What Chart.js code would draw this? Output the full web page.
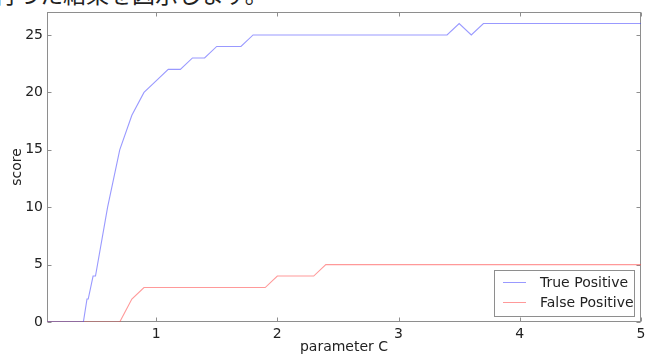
<!DOCTYPE html>
<html><head><meta charset="utf-8">
<script src="https://cdn.jsdelivr.net/npm/chart.js@4.4.0/dist/chart.umd.min.js"></script>
<style>
html,body{margin:0;padding:0;background:#fff;overflow:hidden;}
#wrap{position:relative;width:645px;height:354px;overflow:hidden;}
#jp{position:absolute;left:-6px;top:-18px;font-family:"Noto Sans CJK JP";font-size:23px;line-height:23px;color:#222;white-space:nowrap;}
canvas{position:absolute;left:0;top:0;}
</style></head><body>
<div id="wrap"><div id="jp">行った結果を図示します。</div><canvas id="c" width="645" height="354"></canvas></div>
<script>
// parameter C values (x)
const paramC = [0.1,0.2,0.3,0.4,0.43,0.44,0.46,0.48,0.5,0.6,0.7,
  0.8,0.9,1.0,1.1,1.2,1.3,1.4,1.5,1.6,1.7,
  1.8,1.9,2.0,2.1,2.2,2.3,2.4,2.5,2.6,2.7,2.8,2.9,3.0,3.1,3.2,3.3,3.4,
  3.5,3.6,
  3.7,3.8,3.9,4.0,4.1,4.2,4.3,4.4,4.5,4.6,4.7,4.8,4.9,5.0];
const truePositive = [0,0,0,0,2,2,3,4,4,10,15,
  18,20,21,22,22,23,23,24,24,24,
  25,25,25,25,25,25,25,25,25,25,25,25,25,25,25,25,25,
  26,25,
  26,26,26,26,26,26,26,26,26,26,26,26,26,26];
const falsePositive = [0,0,0,0,0,0,0,0,0,0,0,
  2,3,3,3,3,3,3,3,3,3,
  3,3,4,4,4,4,5,5,5,5,5,5,5,5,5,5,5,
  5,5,
  5,5,5,5,5,5,5,5,5,5,5,5,5,5];
const seriesNames = ['True Positive','False Positive'];
const xTickValues = [1,2,3,4,5];
const yTickValues = [0,5,10,15,20,25];
const xTitle = 'parameter C';
const yTitle = 'score';

const toPts = vals => paramC.map((c,i)=>({x:c,y:vals[i]}));
const FRAME = '#8e8e8e';
const TXT = '#222';
const FONT = 'DejaVu Sans';
const noPad = s => { s.paddingLeft=0; s.paddingRight=0; s.paddingTop=0; s.paddingBottom=0; };

const framePlugin = {
  id:'frame',
  beforeDatasetsDraw(chart){
    const {ctx, chartArea:a, scales:{x,y}} = chart;
    ctx.save();
    ctx.strokeStyle = FRAME; ctx.lineWidth = 1;
    const L=Math.round(a.left)+0.5, R=Math.round(a.right)-0.5, T=Math.round(a.top)+0.5, B=Math.round(a.bottom)-0.5;
    ctx.strokeRect(L,T,R-L,B-T);
    ctx.beginPath();
    x.ticks.forEach(t=>{
      const px=Math.round(x.getPixelForValue(t.value))+0.5;
      ctx.moveTo(px,B); ctx.lineTo(px,B-4);
      ctx.moveTo(px,T); ctx.lineTo(px,T+4);
    });
    y.ticks.forEach(t=>{
      const py=Math.round(y.getPixelForValue(t.value))+0.5;
      ctx.moveTo(L,py); ctx.lineTo(L+4,py);
      ctx.moveTo(R,py); ctx.lineTo(R-4,py);
    });
    ctx.stroke();
    ctx.restore();
  }
};
const legendPlugin = {
  id:'innerLegend',
  afterDraw(chart){
    const {ctx} = chart;
    const bx=494.5, by=270.5, bw=140, bh=46;
    ctx.save();
    ctx.fillStyle='#fff'; ctx.fillRect(bx,by,bw,bh);
    ctx.strokeStyle=FRAME; ctx.lineWidth=1; ctx.strokeRect(bx,by,bw,bh);
    ctx.font = '14px "'+FONT+'"';
    ctx.textBaseline='middle'; ctx.textAlign='left';
    chart.data.datasets.forEach((ds,i)=>{
      const cy = 282 + i*20;
      ctx.strokeStyle = ds.borderColor; ctx.lineWidth=1;
      ctx.beginPath(); ctx.moveTo(503,cy+0.5); ctx.lineTo(526,cy+0.5); ctx.stroke();
      ctx.fillStyle = TXT; ctx.fillText(ds.label, 540, cy+1);
    });
    ctx.restore();
  }
};

new Chart(document.getElementById('c'), {
  type:'line',
  data:{datasets:[
    {label:seriesNames[0], data:toPts(truePositive), borderColor:'rgba(70,70,255,0.55)', borderWidth:1.1, pointRadius:0, fill:false, tension:0},
    {label:seriesNames[1], data:toPts(falsePositive), borderColor:'rgba(255,70,70,0.55)', borderWidth:1.1, pointRadius:0, fill:false, tension:0}
  ]},
  options:{
    responsive:false, animation:false, devicePixelRatio:1,
    layout:{padding:{top:12,right:4,left:0,bottom:0}},
    plugins:{legend:{display:false}, tooltip:{enabled:false}},
    scales:{
      x:{type:'linear', min:0.1, max:5,
        grid:{display:false, drawTicks:false}, border:{display:false},
        afterBuildTicks:s=>{s.ticks = xTickValues.map(v=>({value:v}));},
        afterFit:s=>{s.height=32; noPad(s);},
        ticks:{padding:4, color:TXT, font:{family:FONT,size:14}, maxRotation:0, callback:v=>String(v)},
        title:{display:true, text:xTitle, color:TXT, font:{family:FONT,size:14,lineHeight:1}, padding:{top:0,bottom:0}}
      },
      y:{type:'linear', min:0, max:27,
        grid:{display:false, drawTicks:false}, border:{display:false},
        afterBuildTicks:s=>{s.ticks = yTickValues.map(v=>({value:v}));},
        afterFit:s=>{s.width=47; noPad(s);},
        ticks:{padding:4, color:TXT, font:{family:FONT,size:14}, callback:v=>String(v)},
        title:{display:true, text:yTitle, color:TXT, font:{family:FONT,size:14}, padding:{top:9,bottom:0}}
      }
    }
  },
  plugins:[framePlugin, legendPlugin]
});
</script>
</body></html>
